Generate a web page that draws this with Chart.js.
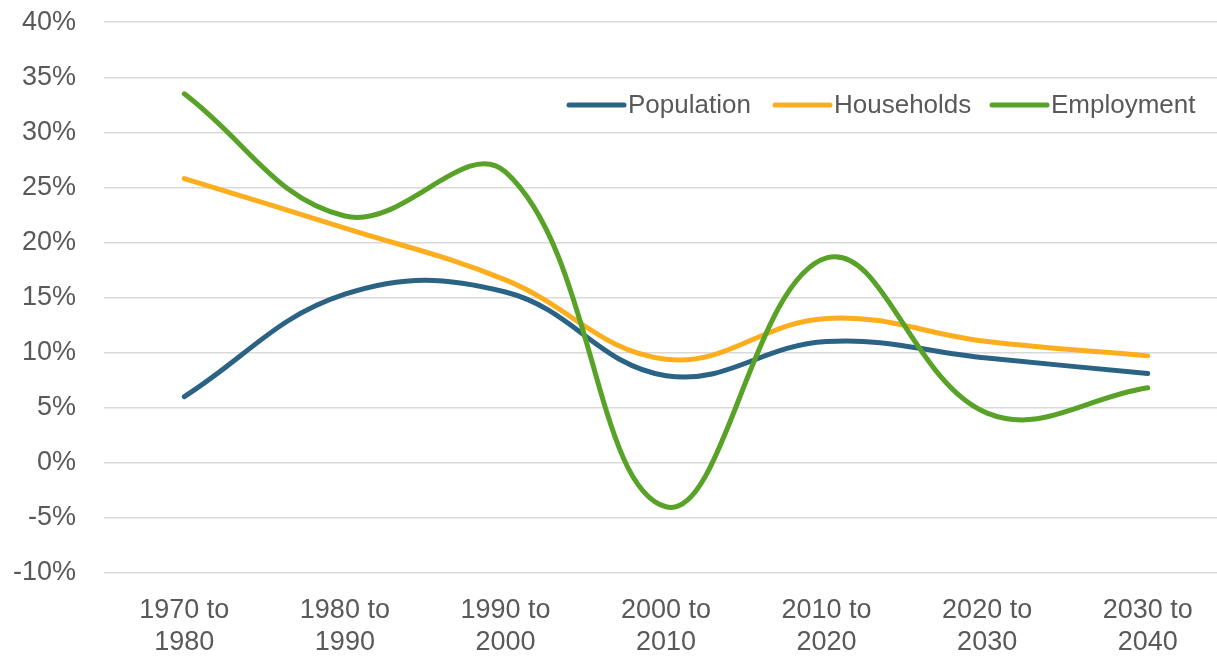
<!DOCTYPE html>
<html>
<head>
<meta charset="utf-8">
<script src="https://cdn.jsdelivr.net/npm/chart.js@4/dist/chart.umd.min.js"></script>
<style>
    html, body { margin: 0; padding: 0; background: #fff; overflow: hidden; }
    #wrap { width: 1228px; height: 676px; margin-top: -22px; }
</style>
</head>
<body>
<div id="wrap"><canvas id="growthChart"></canvas></div>
<script>
const periods = [
    ['1970 to', '1980'], ['1980 to', '1990'], ['1990 to', '2000'], ['2000 to', '2010'],
    ['2010 to', '2020'], ['2020 to', '2030'], ['2030 to', '2040']
];
const population = [6.0, 15.3, 15.5, 7.9, 11.0, 9.5, 8.1];
const households = [25.8, 21.3, 16.6, 9.4, 13.1, 11.0, 9.7];
const employment = [33.5, 22.4, 26.4, -4.0, 18.6, 4.5, 6.8];
const seriesNames = ['Population', 'Households', 'Employment'];
const seriesColors = ['#2b6384', '#fdae1f', '#57a227'];

const textColor = '#595959';
const fontFamily = '"Liberation Sans", Arial, sans-serif';

// legend sits inside the plot, so draw it ourselves
// (canvas is shifted up 22px by the wrapper, hence 105 + 22)
const insideLegend = {
    id: 'insideLegend',
    afterDraw(chart) {
        const ctx = chart.ctx;
        const y = 127;
        const starts = [569, 775, 992];
        ctx.save();
        ctx.font = '26px ' + fontFamily;
        ctx.textBaseline = 'middle';
        ctx.lineWidth = 5;
        ctx.lineCap = 'round';
        seriesNames.forEach((name, i) => {
            ctx.strokeStyle = seriesColors[i];
            ctx.beginPath();
            ctx.moveTo(starts[i], y);
            ctx.lineTo(starts[i] + 55, y);
            ctx.stroke();
            ctx.fillStyle = textColor;
            ctx.fillText(name, starts[i] + 59, y + 1);
        });
        ctx.restore();
    }
};

function lineSet(label, data, color, order) {
    return {
        label: label,
        data: data,
        borderColor: color,
        backgroundColor: color,
        borderWidth: 5,
        borderCapStyle: 'round',
        pointRadius: 0,
        tension: 0.4,
        fill: false,
        order: order
    };
}

const ctx = document.getElementById('growthChart').getContext('2d');
new Chart(ctx, {
    type: 'line',
    data: {
        labels: periods,
        datasets: [
            lineSet(seriesNames[0], population, seriesColors[0], 3),
            lineSet(seriesNames[1], households, seriesColors[1], 2),
            lineSet(seriesNames[2], employment, seriesColors[2], 1)
        ]
    },
    options: {
        responsive: true,
        maintainAspectRatio: false,
        animation: false,
        layout: { padding: { left: -15, right: 0, top: 0, bottom: -18 } },
        plugins: {
            legend: { display: false },
            tooltip: { enabled: false }
        },
        scales: {
            x: {
                offset: true,
                grid: { display: false },
                border: { display: false },
                ticks: {
                    color: textColor,
                    font: { family: fontFamily, size: 27, lineHeight: 1.17 },
                    padding: 14,
                    maxRotation: 0,
                    autoSkip: false
                }
            },
            y: {
                min: -10,
                max: 40,
                border: { display: false },
                grid: { color: '#d9d9d9', lineWidth: 1.5, drawTicks: false },
                ticks: {
                    stepSize: 5,
                    color: textColor,
                    font: { family: fontFamily, size: 27 },
                    padding: 28,
                    callback: v => v + '%'
                }
            }
        }
    },
    plugins: [insideLegend]
});
</script>
</body>
</html>
